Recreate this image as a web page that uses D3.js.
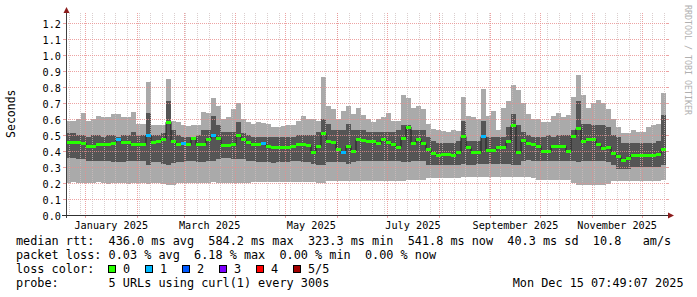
<!DOCTYPE html>
<html><head><meta charset="utf-8">
<script src="https://cdn.jsdelivr.net/npm/d3@7"></script>
<style>
body{margin:0;background:#fff}
svg{display:block}
text{font-family:"DejaVu Sans Mono",monospace;fill:#000}
</style>
</head><body>
<svg id="c" width="697" height="297"></svg>
<script>
// ---- data ----
const endTime = new Date(2025, 11, 15, 7, 49, 7);
const spanDays = 360;
const stepDays = 3;

const outerHigh = [0.59,0.59,0.60,0.64,0.59,0.60,0.62,0.61,0.61,0.63,
0.63,0.61,0.61,0.645,0.57,0.57,0.83,0.565,0.565,0.565,
0.85,0.59,0.58,0.56,0.555,0.56,0.56,0.645,0.64,0.73,
0.68,0.60,0.61,0.66,0.70,0.60,0.58,0.57,0.58,0.575,
0.57,0.55,0.55,0.555,0.56,0.56,0.59,0.62,0.60,0.60,
0.59,0.86,0.68,0.66,0.60,0.65,0.68,0.63,0.67,0.625,
0.60,0.58,0.60,0.61,0.635,0.59,0.59,0.75,0.73,0.67,
0.68,0.66,0.57,0.54,0.53,0.525,0.52,0.53,0.525,0.74,
0.62,0.61,0.60,0.79,0.62,0.65,0.53,0.67,0.71,0.81,
0.78,0.70,0.63,0.60,0.60,0.58,0.58,0.62,0.635,0.61,
0.625,0.74,0.875,0.75,0.67,0.70,0.72,0.70,0.66,0.60,
0.55,0.51,0.51,0.53,0.52,0.52,0.55,0.56,0.57,0.76];

const innerHigh = [0.51,0.51,0.50,0.50,0.49,0.50,0.50,0.49,0.50,0.50,
0.49,0.50,0.50,0.52,0.50,0.50,0.64,0.50,0.50,0.51,
0.71,0.53,0.50,0.49,0.49,0.49,0.50,0.53,0.53,0.62,
0.56,0.52,0.52,0.52,0.58,0.51,0.50,0.49,0.49,0.49,
0.485,0.485,0.485,0.485,0.485,0.49,0.50,0.50,0.50,0.50,
0.52,0.60,0.57,0.53,0.53,0.53,0.57,0.53,0.53,0.53,
0.52,0.52,0.52,0.52,0.52,0.52,0.53,0.56,0.56,0.53,
0.53,0.53,0.49,0.46,0.45,0.45,0.45,0.45,0.46,0.59,
0.46,0.46,0.46,0.59,0.49,0.49,0.49,0.49,0.55,0.63,
0.56,0.52,0.50,0.49,0.49,0.49,0.50,0.49,0.50,0.50,
0.50,0.53,0.71,0.57,0.57,0.56,0.56,0.56,0.55,0.50,
0.49,0.45,0.45,0.45,0.45,0.45,0.45,0.45,0.46,0.625];

const innerLow = [0.355,0.355,0.35,0.35,0.34,0.34,0.34,0.34,0.335,0.33,
0.33,0.33,0.335,0.34,0.34,0.34,0.31,0.33,0.33,0.32,
0.31,0.325,0.33,0.33,0.34,0.335,0.33,0.33,0.34,0.34,
0.35,0.355,0.355,0.35,0.35,0.35,0.34,0.335,0.33,0.33,
0.33,0.325,0.33,0.33,0.33,0.335,0.335,0.33,0.33,0.32,
0.31,0.31,0.33,0.33,0.33,0.33,0.32,0.33,0.335,0.335,
0.335,0.335,0.335,0.335,0.335,0.335,0.335,0.33,0.33,0.335,
0.335,0.335,0.31,0.31,0.31,0.31,0.31,0.315,0.315,0.32,
0.315,0.315,0.32,0.32,0.32,0.32,0.32,0.32,0.32,0.31,
0.31,0.34,0.345,0.34,0.335,0.335,0.335,0.335,0.335,0.335,
0.335,0.335,0.33,0.335,0.335,0.335,0.335,0.335,0.33,0.31,
0.29,0.29,0.29,0.30,0.30,0.30,0.30,0.30,0.30,0.31];

const outerLow = [0.20,0.205,0.20,0.20,0.20,0.20,0.205,0.20,0.195,0.20,
0.20,0.20,0.195,0.20,0.20,0.20,0.195,0.20,0.20,0.195,
0.19,0.19,0.20,0.20,0.20,0.20,0.20,0.20,0.20,0.205,
0.20,0.20,0.20,0.20,0.20,0.20,0.20,0.205,0.205,0.205,
0.205,0.205,0.205,0.205,0.205,0.205,0.205,0.205,0.205,0.205,
0.20,0.20,0.21,0.21,0.21,0.21,0.21,0.21,0.21,0.21,
0.21,0.21,0.21,0.21,0.21,0.21,0.21,0.21,0.22,0.22,
0.22,0.22,0.23,0.23,0.23,0.23,0.23,0.23,0.23,0.235,
0.235,0.235,0.235,0.24,0.24,0.24,0.24,0.24,0.24,0.24,
0.24,0.24,0.24,0.23,0.22,0.22,0.22,0.22,0.22,0.22,
0.22,0.20,0.19,0.19,0.19,0.19,0.19,0.19,0.195,0.21,
0.21,0.21,0.21,0.21,0.21,0.21,0.21,0.21,0.21,0.22];

const medianRtt = [0.455,0.455,0.455,0.45,0.43,0.43,0.44,0.44,0.44,0.45,
0.47,0.455,0.455,0.44,0.44,0.44,0.495,0.455,0.46,0.475,
0.58,0.46,0.44,0.445,0.44,0.48,0.44,0.44,0.475,0.50,
0.48,0.435,0.435,0.44,0.495,0.47,0.455,0.44,0.44,0.445,
0.43,0.425,0.425,0.425,0.425,0.43,0.44,0.44,0.435,0.39,
0.43,0.51,0.46,0.455,0.41,0.39,0.43,0.40,0.47,0.465,
0.46,0.46,0.445,0.47,0.455,0.44,0.425,0.48,0.55,0.45,
0.475,0.445,0.41,0.385,0.37,0.38,0.38,0.375,0.39,0.49,
0.42,0.39,0.39,0.49,0.405,0.405,0.42,0.42,0.46,0.56,
0.39,0.465,0.45,0.44,0.43,0.395,0.40,0.43,0.43,0.43,
0.40,0.49,0.54,0.46,0.475,0.475,0.44,0.415,0.425,0.385,
0.365,0.34,0.355,0.375,0.375,0.37,0.37,0.37,0.38,0.41];

const lossCount = [0,0,0,0,0,0,0,0,0,0, 1,0,0,0,0,0,1,0,0,0,
0,0,0,1,0,0,0,0,0,1, 0,0,0,0,0,0,0,0,0,1,
0,0,0,0,0,0,0,0,0,0, 0,0,0,0,0,1,0,0,0,0,
0,0,0,0,0,0,0,0,0,0, 0,0,0,0,0,0,0,0,0,0,
0,0,0,1,0,0,0,0,0,0, 0,0,0,0,0,0,0,0,0,0,
0,0,0,0,0,0,0,0,0,0, 0,0,0,0,0,0,0,0,0,0];

const lossLabels = ["0","1","2","3","4","5/5"];
const lossColors = ["#26ff00","#00b8ff","#0059ff","#7e00ff","#ff0000","#a10000"];

const yTickLabels = ["0.0","0.1","0.2","0.3","0.4","0.5","0.6","0.7","0.8","0.9","1.0","1.1","1.2"];
const xTickLabels = ["January 2025","March 2025","May 2025","July 2025","September 2025","November 2025"];

const legendRtt  = "median rtt:  436.0 ms avg  584.2 ms max  323.3 ms min  541.8 ms now  40.3 ms sd  10.8   am/s";
const legendLoss = "packet loss: 0.03 % avg  6.18 % max  0.00 % min  0.00 % now";
const legendColor = "loss color:";
const legendProbe = "probe:       5 URLs using curl(1) every 300s";

// ---- drawing ----
const svg = d3.select("#c");
const start = new Date(endTime.getTime() - spanDays * 864e5);
const x = d3.scaleTime().domain([start, endTime]).range([66, 666]);
const y = d3.scaleLinear().domain([0, 1.2625]).range([215, 13]);

const cols = outerHigh.map((v, i) => ({
  t: new Date(start.getTime() + i * stepDays * 864e5),
  hi2: v, hi1: innerHigh[i], lo1: innerLow[i], lo2: outerLow[i],
  med: medianRtt[i], loss: lossCount[i]
}));
const pts = cols.concat([Object.assign({}, cols[cols.length - 1], {t: endTime})]);

// smoke
svg.append("path")
  .attr("d", d3.area().x(d => x(d.t)).y0(d => y(d.lo2)).y1(d => y(d.hi2)).curve(d3.curveStepAfter)(pts))
  .attr("fill", "#aaaaaa").attr("shape-rendering", "crispEdges");
svg.append("path")
  .attr("d", d3.area().x(d => x(d.t)).y0(d => y(d.lo1)).y1(d => y(d.hi1)).curve(d3.curveStepAfter)(pts))
  .attr("fill", "#555555").attr("shape-rendering", "crispEdges");

// grid (on top of smoke)
const g = svg.append("g");
const minorColor = "rgba(205,190,190,0.75)";
const majorColor = "rgba(232,140,140,0.8)";
d3.timeSunday.range(start, endTime).forEach(d => {
  const xx = Math.round(x(d)) + 0.5;
  g.append("line").attr("x1", xx).attr("x2", xx).attr("y1", 13).attr("y2", 215)
    .attr("stroke", minorColor).attr("stroke-dasharray", "1,1");
});
d3.timeMonth.range(start, endTime).forEach(d => {
  const xx = Math.round(x(d)) + 0.5;
  g.append("line").attr("x1", xx).attr("x2", xx).attr("y1", 13).attr("y2", 215)
    .attr("stroke", majorColor).attr("stroke-dasharray", "1,1");
  g.append("line").attr("x1", xx).attr("x2", xx).attr("y1", 215).attr("y2", 218)
    .attr("stroke", majorColor);
});
yTickLabels.forEach(lbl => {
  const v = +lbl;
  const yy = Math.round(y(v)) + 0.5;
  if (v > 0) {
    g.append("line").attr("x1", 66).attr("x2", 666).attr("y1", yy).attr("y2", yy)
      .attr("stroke", majorColor).attr("stroke-dasharray", "1,1");
  }
  g.append("line").attr("x1", 63).attr("x2", 66).attr("y1", yy).attr("y2", yy).attr("stroke", majorColor);
  g.append("line").attr("x1", 666).attr("x2", 669).attr("y1", yy).attr("y2", yy).attr("stroke", majorColor);
  svg.append("text").attr("x", 61).attr("y", y(v) + 4.5).attr("text-anchor", "end")
    .attr("font-size", "10.2px").text(lbl);
});

// median line
svg.append("path")
  .attr("d", d3.line().x(d => x(d.t)).y(d => y(d.med)).curve(d3.curveStepAfter)(pts))
  .attr("fill", "none").attr("stroke", "#202020").attr("stroke-width", 1);
svg.append("g").selectAll("rect").data(cols).join("rect")
  .attr("x", d => x(d.t))
  .attr("width", d => x(new Date(d.t.getTime() + stepDays * 864e5)) - x(d.t))
  .attr("y", d => y(d.med) - 1.5).attr("height", 3)
  .attr("fill", d => lossColors[d.loss])
  .attr("shape-rendering", "crispEdges");

// axes
svg.append("line").attr("x1", 66.5).attr("x2", 66.5).attr("y1", 218).attr("y2", 10)
  .attr("stroke", "#404040");
svg.append("line").attr("x1", 62).attr("x2", 669).attr("y1", 215.5).attr("y2", 215.5)
  .attr("stroke", "#303030");
svg.append("path").attr("d", "M668,212.5L668,218.5L674,215.5Z").attr("fill", "#8c1c1c");
svg.append("path").attr("d", "M63.5,13L69.5,13L66.5,7Z").attr("fill", "#8c1c1c");

// x labels
const parseMonth = d3.timeParse("%B %Y");
xTickLabels.forEach(lbl => {
  const d = parseMonth(lbl);
  const cx = (x(d) + x(d3.timeMonth.offset(d, 1))) / 2;
  svg.append("text").attr("x", cx).attr("y", 228.5).attr("text-anchor", "middle")
    .attr("font-size", "10.2px").text(lbl);
});

// axis title and watermark
svg.append("text").attr("transform", "translate(15,113.7) rotate(-90)")
  .attr("text-anchor", "middle").attr("font-size", "11.5px").text("Seconds");
svg.append("text").attr("transform", "translate(685,5) rotate(90)")
  .attr("font-size", "8.3px").style("fill", "#b0b0b0").text("RRDTOOL / TOBI OETIKER");

// legend
const lf = "11.83px";
const addLine = (s, xx, yy) => svg.append("text").attr("x", xx).attr("y", yy)
  .attr("font-size", lf).style("white-space", "pre").text(s);
addLine(legendRtt, 16, 245);
addLine(legendLoss, 16, 259);
addLine(legendColor, 16, 273);
lossLabels.forEach((lbl, i) => {
  const bx = 108.5 + 37 * i;
  svg.append("rect").attr("x", bx).attr("y", 265.5).attr("width", 7).attr("height", 7)
    .attr("fill", lossColors[i]).attr("stroke", "#000").attr("stroke-width", 1);
  addLine(lbl, bx + 14.5, 273);
});
addLine(legendProbe, 16, 287);
addLine(d3.timeFormat("%a %b %d %H:%M:%S %Y")(endTime), 512.7, 287);
</script>
</body></html>
